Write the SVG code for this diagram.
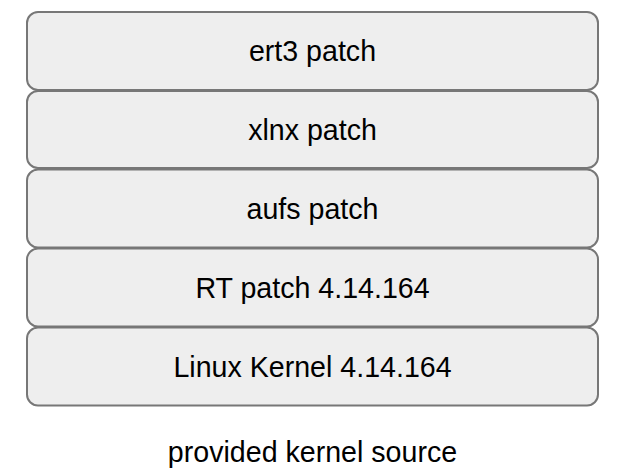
<svg xmlns="http://www.w3.org/2000/svg" width="627" height="470" viewBox="0 0 627 470">
<style>
.box{fill:#eeeeee;stroke:#777777;stroke-width:2}
.t{font-family:"Liberation Sans",Arial,sans-serif;font-size:28.6px;fill:#000;text-anchor:middle;dominant-baseline:central}
</style>
<rect width="627" height="470" fill="#ffffff"/>
<g id="ert3"><rect class="box" x="27" y="12" width="571" height="78" rx="11"/><text class="t" x="312.5" y="51">ert3 patch</text></g>
<g id="xlnx"><rect class="box" x="27" y="91" width="571" height="77" rx="11"/><text class="t" x="312.5" y="130">xlnx patch</text></g>
<g id="aufs"><rect class="box" x="27" y="169.5" width="571" height="78" rx="11"/><text class="t" x="312.5" y="209">aufs patch</text></g>
<g id="rt"><rect class="box" x="27" y="248.5" width="571" height="78" rx="11"/><text class="t" x="312.5" y="288">RT patch 4.14.164</text></g>
<g id="linux"><rect class="box" x="27" y="327.5" width="571" height="78" rx="11"/><text class="t" x="312.5" y="367">Linux Kernel 4.14.164</text></g>
<g id="connectors"></g>
<g id="label"><text class="t" x="312.5" y="452">provided kernel source</text></g>
</svg>
